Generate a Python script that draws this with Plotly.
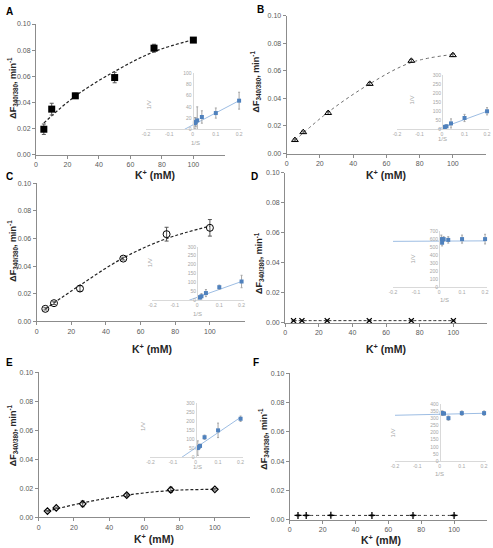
import plotly.graph_objects as go

W, H = 493, 548

# ---------------- data ----------------
k_conc = [5, 10, 25, 50, 75, 100]
inv_conc = [0.01, 0.0133, 0.02, 0.04, 0.1, 0.2]
x_ticks = [0, 20, 40, 60, 80, 100]
inset_xticks = [-0.2, -0.1, 0, 0.1, 0.2]
inset_xlabels = ["-0.2", "-0.1", "0", "0.1", "0.2"]

a_rate = [0.0194, 0.0348, 0.0450, 0.0590, 0.0815, 0.0877]
a_err = [0.0040, 0.0045, 0.0020, 0.0040, 0.0030, 0.0015]
b_rate = [0.0098, 0.0155, 0.0294, 0.0505, 0.0672, 0.0713]
b_err = [0.0008, 0.0008, 0.0010, 0.0010, 0.0010, 0.0010]
c_rate = [0.0091, 0.0132, 0.0238, 0.0455, 0.0632, 0.0678]
c_err = [0.0008, 0.0010, 0.0020, 0.0010, 0.0050, 0.0060]
d_rate = [0.0015, 0.0015, 0.0015, 0.0015, 0.0015, 0.0015]
d_err = [0.0003, 0.0003, 0.0003, 0.0003, 0.0003, 0.0003]
e_rate = [0.0043, 0.0065, 0.0093, 0.0153, 0.0190, 0.0193]
e_err = [0.0005, 0.0005, 0.0020, 0.0010, 0.0018, 0.0005]
f_rate = [0.0030, 0.0030, 0.0031, 0.0030, 0.0030, 0.0030]
f_err = [0.0003, 0.0003, 0.0003, 0.0003, 0.0003, 0.0003]

fit_k = [5, 25, 50, 75, 100]
a_fit = [0.0242, 0.0448, 0.0637, 0.0788, 0.0880]
b_fit = [0.0095, 0.0300, 0.0505, 0.0660, 0.0718]
c_fit = [0.0090, 0.0262, 0.0460, 0.0600, 0.0690]
d_fit = [0.0015, 0.0015, 0.0015, 0.0015, 0.0015]
e_fit = [0.0043, 0.0100, 0.0153, 0.0185, 0.0193]
f_fit = [0.0030, 0.0030, 0.0030, 0.0030, 0.0030]

a_inv = [11, 13, 16, 22, 29, 51]
a_inv_err = [10, 8, 24, 11, 9, 15]
a_line_x = [-0.035, 0.2]
a_line_y = [0, 51]
b_inv = [12, 14, 17, 33, 63, 100]
b_inv_err = [5, 5, 8, 25, 20, 20]
b_line_x = [-0.02, 0.2]
b_line_y = [0, 100]
c_inv = [15, 16, 22, 40, 73, 105]
c_inv_err = [5, 5, 15, 20, 12, 35]
c_line_x = [-0.035, 0.2]
c_line_y = [0, 105]
d_inv = [600, 555, 600, 590, 600, 600]
d_inv_err = [50, 40, 30, 40, 50, 60]
d_line_x = [-0.2, 0.2]
d_line_y = [572, 578]
e_inv = [50, 55, 62, 110, 148, 212]
e_inv_err = [40, 10, 10, 12, 40, 15]
e_line_x = [-0.06, 0.2]
e_line_y = [0, 220]
f_inv = [335, 335, 332, 300, 335, 335]
f_inv_err = [15, 15, 10, 15, 15, 15]
f_line_x = [-0.2, 0.2]
f_line_y = [320, 334]

ytitle = "<b>ΔF<sub>340/380</sub>, min<sup>-1</sup></b>"
xtitle = "<b>K<sup>+</sup> (mM)</b>"

FONT = "Liberation Sans, Arial, sans-serif"
AX = "#8c8c8c"
TK = "#595959"
IAX = "#d9d9d9"
ITK = "#a6a6a6"
BLUE = "#4f81bd"

# ---------------- geometry (pixels) ----------------
mains = [
    dict(x0=32.3, sc=1.59, y0=152.5, y1=20.3),
    dict(x0=285.5, sc=1.68, y0=151.5, y1=11.7),
    dict(x0=33.0, sc=1.75, y0=321.5, y1=181.7),
    dict(x0=284.0, sc=1.70, y0=323.0, y1=171.0),
    dict(x0=35.0, sc=1.78, y0=520.0, y1=373.0),
    dict(x0=288.7, sc=1.66, y0=522.5, y1=374.0),
]
insets = [
    dict(xl=143.5, xr=237.5, yb=127, yt=70, ymax=100, dt=20),
    dict(xl=397, xr=488, yb=127, yt=72, ymax=300, dt=50),
    dict(xl=150, xr=240, yb=300, yt=246, ymax=300, dt=50),
    dict(xl=393, xr=486, yb=287, yt=230, ymax=700, dt=100),
    dict(xl=148, xr=239, yb=459, yt=404, ymax=300, dt=50),
    dict(xl=395, xr=485, yb=463, yt=405, ymax=400, dt=50),
]

rates = [a_rate, b_rate, c_rate, d_rate, e_rate, f_rate]
errs = [a_err, b_err, c_err, d_err, e_err, f_err]
fits = [a_fit, b_fit, c_fit, d_fit, e_fit, f_fit]
inv_vals = [a_inv, b_inv, c_inv, d_inv, e_inv, f_inv]
inv_errs = [a_inv_err, b_inv_err, c_inv_err, d_inv_err, e_inv_err, f_inv_err]
line_xs = [a_line_x, b_line_x, c_line_x, d_line_x, e_line_x, f_line_x]
line_ys = [a_line_y, b_line_y, c_line_y, d_line_y, e_line_y, f_line_y]

markers = [
    dict(symbol="square", size=7, color="black"),
    dict(symbol="triangle-up-open", size=6, color="black", line=dict(width=1, color="black")),
    dict(symbol="circle-open", size=7, color="black", line=dict(width=1, color="black")),
    dict(symbol="x-thin-open", size=5, color="black", line=dict(width=1.3, color="black")),
    dict(symbol="diamond-open", size=5, color="black", line=dict(width=1.2, color="black")),
    dict(symbol="cross-thin-open", size=5, color="black", line=dict(width=1.3, color="black")),
]
fit_lines = [
    dict(color="#222222", width=1.2, dash="3px,2px"),
    dict(color="#6d6d6d", width=1, dash="dot"),
    dict(color="#222222", width=1.2, dash="3px,2px"),
    dict(color="#333333", width=1, dash="3px,2px"),
    dict(color="#222222", width=1.2, dash="3px,2px"),
    dict(color="#333333", width=1, dash="dot"),
]

fig = go.Figure()
layout = {}


def name(kind, i):
    return kind + "axis" + ("" if i == 1 else str(i))


def ref(kind, i):
    return kind + ("" if i == 1 else str(i))


for p in range(6):
    i = p + 1
    g = mains[p]
    layout[name("x", i)] = dict(
        domain=[g["x0"] / W, (g["x0"] + g["sc"] * 120) / W], range=[0, 120],
        anchor=ref("y", i), tickvals=x_ticks, showline=True, linecolor=AX,
        linewidth=1, ticks="outside", ticklen=3, tickcolor=AX,
        tickfont=dict(size=7, color=TK, family=FONT), showgrid=False,
        zeroline=False, fixedrange=True)
    layout[name("y", i)] = dict(
        domain=[1 - g["y0"] / H, 1 - g["y1"] / H], range=[0, 0.1], dtick=0.02,
        tickformat=".2f", anchor=ref("x", i), showline=True, linecolor=AX,
        linewidth=1, ticks="outside", ticklen=3, tickcolor=AX,
        tickfont=dict(size=7, color=TK, family=FONT), showgrid=False,
        zeroline=False, fixedrange=True)
    fig.add_trace(go.Scatter(
        x=fit_k, y=fits[p], mode="lines", line=dict(shape="spline", **fit_lines[p]),
        xaxis=ref("x", i), yaxis=ref("y", i), cliponaxis=False, hoverinfo="skip"))
    fig.add_trace(go.Scatter(
        x=k_conc, y=rates[p], mode="markers", marker=markers[p],
        error_y=dict(type="data", array=errs[p], color="#555555", thickness=1, width=2),
        xaxis=ref("x", i), yaxis=ref("y", i), cliponaxis=False))

for p in range(6):
    i = p + 7
    g = insets[p]
    s = (g["xr"] - g["xl"]) / 0.4
    x_end = g["xl"] + s * 0.41
    x_zero = g["xl"] + s * 0.2
    layout[name("x", i)] = dict(
        domain=[g["xl"] / W, x_end / W], range=[-0.2, 0.21], anchor=ref("y", i),
        tickvals=inset_xticks, ticktext=inset_xlabels, showline=True,
        linecolor=IAX, linewidth=1, ticks="",
        tickfont=dict(size=5, color=ITK, family=FONT), showgrid=False,
        zeroline=False, fixedrange=True)
    layout[name("y", i)] = dict(
        domain=[1 - g["yb"] / H, 1 - g["yt"] / H], range=[0, g["ymax"]],
        dtick=g["dt"], anchor="free", position=x_zero / W, side="left",
        showline=True, linecolor=IAX, linewidth=1, ticks="",
        tickfont=dict(size=5, color=ITK, family=FONT), showgrid=False,
        zeroline=False, fixedrange=True)
    fig.add_trace(go.Scatter(
        x=line_xs[p], y=line_ys[p], mode="lines",
        line=dict(color="#9dbde3", width=1),
        xaxis=ref("x", i), yaxis=ref("y", i), hoverinfo="skip"))
    fig.add_trace(go.Scatter(
        x=inv_conc, y=inv_vals[p], mode="markers",
        marker=dict(symbol="square", size=4, color=BLUE),
        error_y=dict(type="data", array=inv_errs[p], color="#a6a6a6", thickness=1, width=1),
        xaxis=ref("x", i), yaxis=ref("y", i), cliponaxis=False))

ann = []


def add_text(txt, px, py, size, color, angle=0):
    ann.append(dict(text=txt, x=px / W, y=1 - py / H, xref="paper", yref="paper",
                    showarrow=False, xanchor="center", yanchor="middle",
                    textangle=angle, font=dict(size=size, color=color, family=FONT)))


# panel letters
for letter, px, py in [("A", 6, 8), ("B", 259, 6), ("C", 6, 175),
                       ("D", 253, 175), ("E", 6, 363), ("F", 255, 363)]:
    add_text("<b>" + letter + "</b>", px, py, 10, "#000000")

# x titles
for px, py in [(153, 173), (386, 173), (150, 349), (386, 349), (152, 541), (381, 542)]:
    add_text(xtitle, px, py, 10.5, "#262626")

# y titles
for px, py in [(9, 85), (254, 78), (9, 250), (258, 262), (9, 437), (262, 440)]:
    add_text(ytitle, px, py, 9, "#262626", angle=-90)

# inset axis titles
for px, py in [(146, 102), (412, 97), (147, 262), (413, 258), (140, 428), (393, 435)]:
    add_text("1/V", px, py, 6, ITK, angle=-90)
for px, py in [(193, 141), (443, 137), (195, 314), (445, 300), (195, 469), (440, 476)]:
    add_text("1/S", px, py, 6, ITK)

fig.update_layout(
    width=W, height=H, margin=dict(l=0, r=0, t=0, b=0),
    paper_bgcolor="white", plot_bgcolor="rgba(0,0,0,0)",
    showlegend=False, annotations=ann, font=dict(family=FONT), **layout)

fig.write_html("out.html", config={"displayModeBar": False},
               post_script="document.body.style.margin='0px';"
                           "document.body.style.overflow='hidden';")
